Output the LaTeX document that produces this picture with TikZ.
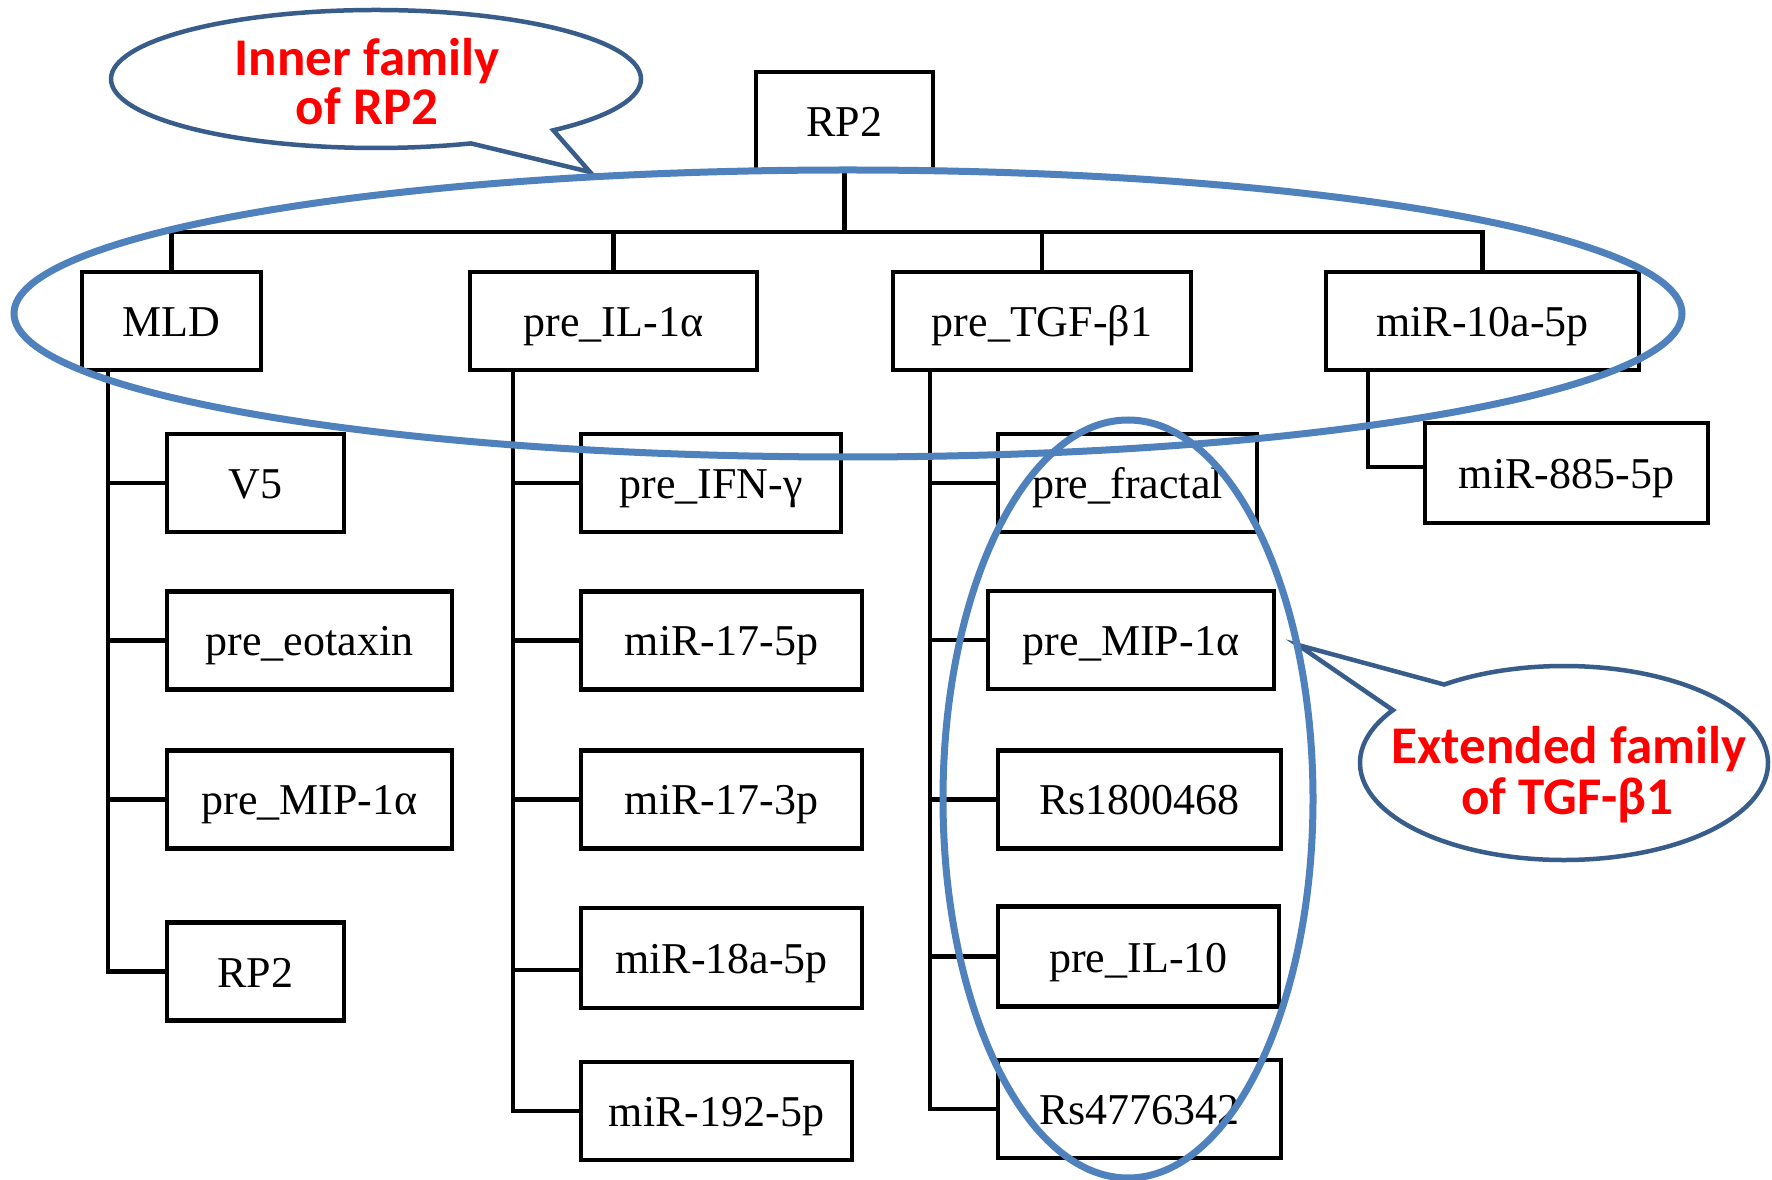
\documentclass[tikz,border=0pt]{standalone}
\usepackage{fontspec}
\setmainfont{Liberation Serif}
\newfontfamily\calloutfont{Carlito}
\usetikzlibrary{calc}

\definecolor{famblue}{HTML}{4F81BD}
\definecolor{bubbleblue}{HTML}{385D8A}
\definecolor{calloutred}{HTML}{FF0000}

\tikzset{
  box/.style={draw, line width=4.2pt, minimum height=98pt, inner sep=0pt,
              text height=31pt, text depth=0pt,
              font=\fontsize{44}{50}\selectfont},
  link/.style={line width=4.2pt},
  family/.style={draw=famblue, line width=7pt},
  bubble/.style={draw=bubbleblue, line width=4.5pt, fill=white, line join=miter},
  bubbletext/.style={text=calloutred, anchor=base, inner sep=0pt,
                     font=\calloutfont\bfseries\fontsize{53}{53}\selectfont}
}

\begin{document}
\begin{tikzpicture}[x=1pt,y=1pt]
\useasboundingbox (0,0) rectangle (1772,1179);
\fill[white] (0,0) rectangle (1772,1179);

% ---- root and first level ----
\node[box, minimum width=177pt] (root)   at (844.5,1058) {RP2};
\node[box, minimum width=179pt] (MLD)    at (171.5,858)  {MLD};
\node[box, minimum width=287pt] (IL1)    at (613.5,858)  {pre\_IL-1α};
\node[box, minimum width=298pt] (TGF)    at (1042,858)   {pre\_TGF-β1};
\node[box, minimum width=313pt] (miR10a) at (1482.5,858) {miR-10a-5p};

% ---- children of MLD ----
\node[box, minimum width=177pt] (V5)      at (255.5,696)   {V5};
\node[box, minimum width=285pt] (eotaxin) at (309.5,538.5) {pre\_eotaxin};
\node[box, minimum width=285pt] (MIP1)    at (309.5,379.5) {pre\_MIP-1α};
\node[box, minimum width=177pt] (RP2b)    at (255.5,207.5) {RP2};

% ---- children of pre_IL-1alpha ----
\node[box, minimum width=260pt] (IFN)  at (711,696)     {pre\_IFN-γ};
\node[box, minimum width=281pt] (m175) at (721.5,538.5) {miR-17-5p};
\node[box, minimum width=281pt] (m173) at (721.5,379.5) {miR-17-3p};
\node[box, minimum width=281pt, minimum height=100pt] (m18a) at (721.5,221) {miR-18a-5p};
\node[box, minimum width=271pt] (m192) at (716.5,68)    {miR-192-5p};

% ---- children of pre_TGF-beta1 ----
\node[box, minimum width=259pt] (fractal) at (1127.5,696)  {pre\_fractal};
\node[box, minimum width=286pt] (MIP2)    at (1131,539)    {pre\_MIP-1α};
\node[box, minimum width=283pt] (Rs18)    at (1139.5,379.5){Rs1800468};
\node[box, minimum width=281pt, minimum height=100pt] (IL10) at (1138.5,222.5) {pre\_IL-10};
\node[box, minimum width=283pt] (Rs47)    at (1139.5,70)   {Rs4776342};

% ---- child of miR-10a-5p ----
\node[box, minimum width=283pt, minimum height=100pt] (m885) at (1566.5,706) {miR-885-5p};

% ---- tree connectors ----
\coordinate (bus) at (0,947);
\draw[link] (root.south) -- (root.south |- bus);
\draw[link] (MLD.north) |- (miR10a.north |- bus) -- (miR10a.north);
\draw[link] (IL1.north |- bus) -- (IL1.north);
\draw[link] (TGF.north |- bus) -- (TGF.north);

\coordinate (t1) at ([xshift=28pt]MLD.south west);
\draw[link] (t1) |- (RP2b.west);
\foreach \c in {V5,eotaxin,MIP1}
  \draw[link] (t1 |- \c.west) -- (\c.west);

\coordinate (t2) at ([xshift=45pt]IL1.south west);
\coordinate (m18aIn) at ([yshift=-12pt]m18a.west);
\draw[link] (t2) |- (m192.west);
\foreach \c in {IFN,m175,m173,m18aIn}
  \draw[link] (t2 |- \c) -- (\c);

\coordinate (t3) at ([xshift=39pt]TGF.south west);
\draw[link] (t3) |- (Rs47.west);
\foreach \c in {fractal,MIP2,Rs18,IL10}
  \draw[link] (t3 |- \c.west) -- (\c.west);

\coordinate (t4) at ([xshift=44pt]miR10a.south west);
\draw[link] (t4) |- ([yshift=6pt]m885.west);

% ---- speech bubbles ----
\coordinate (c1) at (376,1100);
\coordinate (tip1) at (590,1007);
\draw[bubble] (tip1) -- ($(c1)+(-48:265pt and 69pt)$)
  arc[start angle=-48, end angle=291, x radius=265pt, y radius=69pt] -- cycle;
\node[bubbletext] (inner1) at (367,1103) {Inner family};
\node[bubbletext] (inner2) at (367,1054) {of RP2};

\coordinate (c2) at (1564,416);
\coordinate (tip2) at (1298,534);
\draw[bubble] (tip2) -- ($(c2)+(147:204pt and 97pt)$)
  arc[start angle=147, end angle=486, x radius=204pt, y radius=97pt] -- cycle;
\node[bubbletext] (ext1) at (1569,415) {Extended family};
\node[bubbletext] (ext2) at (1567.5,364) {of TGF-β1};

% ---- family groupings ----
\draw[family] (848,865.5) ellipse [x radius=834pt, y radius=143.5pt];
\draw[family] (1128,380) ellipse [x radius=185pt, y radius=379pt];
\end{tikzpicture}
\end{document}
